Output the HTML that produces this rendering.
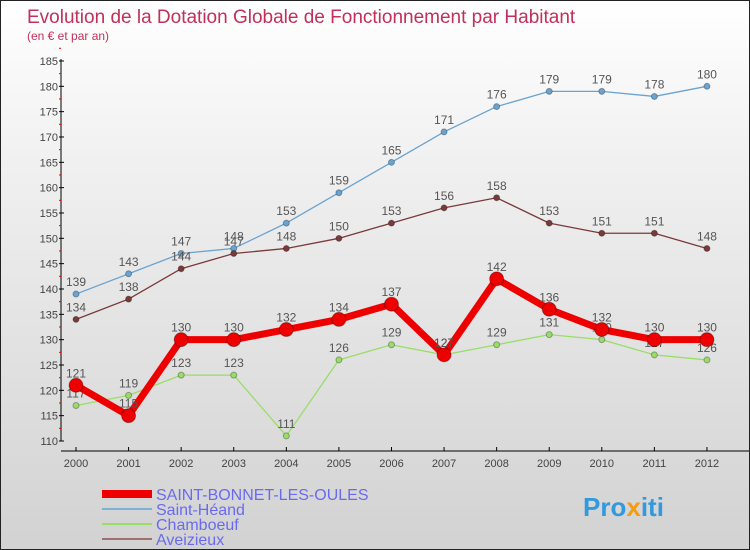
<!DOCTYPE html>
<html><head><meta charset="utf-8"><style>
body{margin:0}
#c{width:748px;height:548px;border:1px solid #222;background:linear-gradient(#fff,#f0f0f0 30%,#d2d2d2);position:relative;overflow:hidden;font-family:"Liberation Sans",sans-serif}
</style></head><body>
<div id="c">
<svg id="s" width="748" height="548">
<text x="26" y="22" font-size="19" fill="#c0305a">Evolution de la Dotation Globale de Fonctionnement par Habitant</text>
<text x="26" y="39" font-size="12" fill="#c0305a">(en € et par an)</text>
<g id="axes"></g><g id="series"></g>
<g>
<line x1="101" y1="493" x2="151" y2="493" stroke="#e00" stroke-width="8"/>
<text x="155" y="499" font-size="16" fill="#6a6af0">SAINT-BONNET-LES-OULES</text>
<line x1="101" y1="508" x2="151" y2="508" stroke="#7fb0d8" stroke-width="2"/>
<text x="155" y="514" font-size="16" fill="#6a6af0">Saint-Héand</text>
<line x1="101" y1="523" x2="151" y2="523" stroke="#99dd66" stroke-width="2"/>
<text x="155" y="529" font-size="16" fill="#6a6af0">Chamboeuf</text>
<line x1="101" y1="538" x2="151" y2="538" stroke="#a07070" stroke-width="2"/>
<text x="155" y="544" font-size="16" fill="#6a6af0">Aveizieux</text>
</g>
<text x="582" y="515" font-size="26" font-weight="bold" fill="#3399dd">Pro<tspan fill="#f39c12">x</tspan>iti</text>
</svg></div>
<script>
const years=[2000,2001,2002,2003,2004,2005,2006,2007,2008,2009,2010,2011,2012];
const yTicks=[110,115,120,125,130,135,140,145,150,155,160,165,170,175,180,185];
const sbo=[121,115,130,130,132,134,137,127,142,136,132,130,130];
const heand=[139,143,147,148,153,159,165,171,176,179,179,178,180];
const chamb=[117,119,123,123,111,126,129,127,129,131,130,127,126];
const aveiz=[134,138,144,147,148,150,153,156,158,153,151,151,148];
const NS="http://www.w3.org/2000/svg";
const X=i=>75+i*52.58, Y=v=>440-(v-110)*5.067;
function mk(t,a,p){const e=document.createElementNS(NS,t);for(const k in a)e.setAttribute(k,a[k]);p.appendChild(e);return e;}
const ax=document.getElementById('axes'), sg=document.getElementById('series');
let yl=mk('line',{x1:60,y1:58,x2:60,y2:440,stroke:'#000'},ax);


let xl=mk('line',{x1:60,y1:450,x2:748,y2:450,stroke:'#000'},ax);


yTicks.forEach(v=>{mk('line',{x1:58,y1:Y(v),x2:63,y2:Y(v),stroke:'#000'},ax);
 mk('line',{x1:58,y1:Y(v+2.5),x2:60,y2:Y(v+2.5),stroke:'#e00'},ax);
 const t=mk('text',{x:57,y:Y(v)+4,'font-size':11,fill:'#444','text-anchor':'end'},ax);t.textContent=v;
 
 });
years.forEach((yr,i)=>{mk('line',{x1:X(i),y1:446,x2:X(i),y2:450,stroke:'#000'},ax);
 const t=mk('text',{x:X(i),y:466,'font-size':11,fill:'#444','text-anchor':'middle'},ax);t.textContent=yr;
 
 });
function series(d,col,w,r,name){
 const g=mk('g',{},sg);
 
 
 mk('polyline',{points:d.map((v,i)=>X(i)+','+Y(v)).join(' '),fill:'none',stroke:col,'stroke-width':w,'stroke-linejoin':'round'},g);
 d.forEach((v,i)=>{const c=mk('circle',{cx:X(i),cy:Y(v),r:r,fill:col,stroke:'rgba(0,0,0,0.3)'},g);
  
  
  const t=mk('text',{x:X(i),y:Y(v)-8,'font-size':12,fill:'#555','text-anchor':'middle'},g);t.textContent=v;
  
  });
}
series(heand,'#6aa3d0',1.3,3,'saint-heand-series');
series(aveiz,'#7a3a3a',1.3,3,'aveizieux-series');
series(chamb,'#99dd66',1.3,3,'chamboeuf-series');
series(sbo,'#ee0000',7,7,'saint-bonnet-series');
</script>
</body></html>
